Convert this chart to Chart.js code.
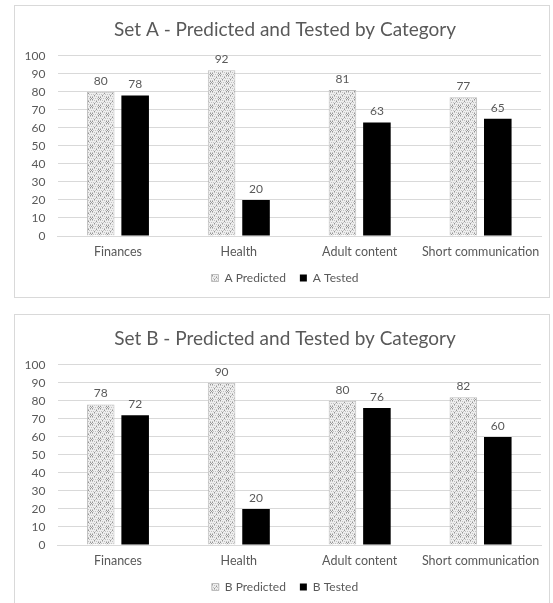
<!DOCTYPE html>
<html>
<head>
<meta charset="utf-8">
<script src="https://cdn.jsdelivr.net/npm/chart.js@4"></script>
<style>
  html, body { margin: 0; padding: 0; background: #fff; }
  body { width: 553px; height: 603px; position: relative; overflow: hidden; }
  .box { position: absolute; left: 14px; width: 536px; height: 293px; border: 1px solid #d9d9d9; box-sizing: border-box; }
  #boxA { top: 5px; }
  #boxB { top: 314px; }
</style>
</head>
<body>
<div class="box" id="boxA"><canvas id="chartA"></canvas></div>
<div class="box" id="boxB"><canvas id="chartB"></canvas></div>
<script>
const categories = ['Finances', 'Health', 'Adult content', 'Short communication'];
const aPredicted = [80, 92, 81, 77];
const aTested = [78, 20, 63, 65];
const bPredicted = [78, 90, 80, 82];
const bTested = [72, 20, 76, 60];
const yTicks = [0, 10, 20, 30, 40, 50, 60, 70, 80, 90, 100];

const FONT = 'Lato';
const GREY = '#595959';

// dotted grey fill like the Excel pattern
function makePattern() {
  const c = document.createElement('canvas');
  c.width = 8; c.height = 8;
  const g = c.getContext('2d');
  g.fillStyle = '#eeeeee';
  g.fillRect(0, 0, 8, 8);
  g.fillStyle = '#c2c2c2';
  for (let y = 0; y < 8; y += 2) {
    for (let x = (y / 2) % 2; x < 8; x += 2) g.fillRect(x, y, 1, 1);
  }
  g.fillStyle = '#969696';
  [[3,3],[5,3],[4,4],[3,5],[5,5],[1,7],[7,1]].forEach(p => g.fillRect(p[0], p[1], 1, 1));
  return g.createPattern(c, 'repeat');
}

// value labels above each bar
const barLabels = {
  id: 'barLabels',
  afterDatasetsDraw(chart) {
    const ctx = chart.ctx;
    ctx.save();
    ctx.font = '12px ' + FONT;
    ctx.fillStyle = GREY;
    ctx.textAlign = 'center';
    ctx.textBaseline = 'bottom';
    chart.data.datasets.forEach((ds, i) => {
      chart.getDatasetMeta(i).data.forEach((bar, j) => {
        ctx.fillText(ds.data[j], bar.x, bar.y - 5);
      });
    });
    ctx.restore();
  }
};

// title and legend sit a little right of the box centre in the original
const nudgeBlocks = {
  id: 'nudgeBlocks',
  afterLayout(chart) {
    [chart.titleBlock, chart.legend].forEach(b => {
      if (b) { b.left += 7; b.right += 7; }
    });
  }
};

function makeChart(id, title, setName, predicted, tested) {
  const pattern = makePattern();
  return new Chart(document.getElementById(id), {
    type: 'bar',
    data: {
      labels: categories,
      datasets: [{
        label: setName + ' Predicted',
        data: predicted,
        backgroundColor: pattern,
        borderColor: '#bdbdbd',
        borderWidth: 1,
        barPercentage: 0.8,
        categoryPercentage: 0.57
      }, {
        label: setName + ' Tested',
        data: tested,
        backgroundColor: '#000',
        borderColor: '#000',
        borderWidth: 0,
        barPercentage: 0.8,
        categoryPercentage: 0.57
      }]
    },
    options: {
      responsive: true,
      maintainAspectRatio: false,
      animation: false,
      layout: { padding: { left: 0, right: 8, top: 0, bottom: 3 } },
      plugins: {
        title: {
          display: true,
          text: title,
          color: GREY,
          font: { family: FONT, size: 19, weight: 'normal' },
          padding: { top: 12, bottom: 15 }
        },
        legend: {
          position: 'bottom',
          labels: {
            boxWidth: 7,
            boxHeight: 7,
            color: GREY,
            padding: 14,
            font: { family: FONT, size: 12 }
          }
        },
        tooltip: { enabled: false }
      },
      scales: {
        x: {
          grid: { display: false, drawTicks: false },
          border: { color: '#d9d9d9' },
          ticks: { color: GREY, padding: 8, maxRotation: 0, minRotation: 0, font: { family: FONT, size: 12.5 } },
          afterFit: axis => { axis.height -= 9; }
        },
        y: {
          min: 0,
          max: 100,
          afterBuildTicks: axis => { axis.ticks = yTicks.map(v => ({ value: v })); },
          grid: { color: '#d9d9d9', drawTicks: false },
          border: { display: false },
          ticks: { color: GREY, padding: 12, autoSkip: false, font: { family: FONT, size: 12 } },
          afterFit: axis => { axis.width = 42.5; }
        }
      }
    },
    plugins: [barLabels, nudgeBlocks]
  });
}

makeChart('chartA', 'Set A - Predicted and Tested by Category', 'A', aPredicted, aTested);
makeChart('chartB', 'Set B - Predicted and Tested by Category', 'B', bPredicted, bTested);
</script>
</body>
</html>
